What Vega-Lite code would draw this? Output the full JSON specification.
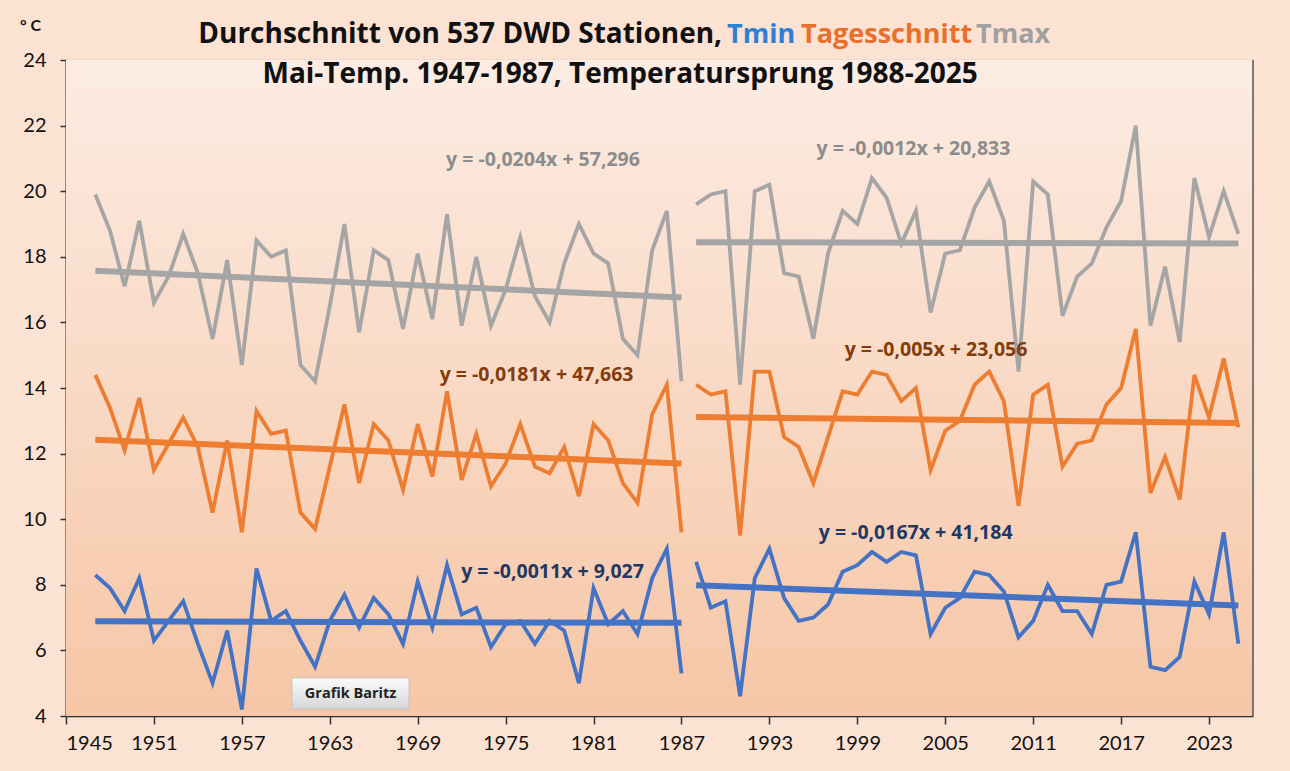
{
  "$schema": "https://vega.github.io/schema/vega-lite/v6.json",
  "width": 1187,
  "height": 656,
  "autosize": {"type": "none"},
  "padding": {"left": 66, "top": 60, "right": 37, "bottom": 55},
  "background": "#fbe2d3",
  "config": {"font": "Lato", "view": {"stroke": null}},
  "datasets": {
    "mai": [
      {"Jahr":1947,"Tmin":8.3,"Tagesschnitt":14.4,"Tmax":19.9},
      {"Jahr":1948,"Tmin":7.9,"Tagesschnitt":13.4,"Tmax":18.8},
      {"Jahr":1949,"Tmin":7.2,"Tagesschnitt":12.1,"Tmax":17.1},
      {"Jahr":1950,"Tmin":8.2,"Tagesschnitt":13.7,"Tmax":19.1},
      {"Jahr":1951,"Tmin":6.3,"Tagesschnitt":11.5,"Tmax":16.6},
      {"Jahr":1952,"Tmin":6.9,"Tagesschnitt":12.3,"Tmax":17.4},
      {"Jahr":1953,"Tmin":7.5,"Tagesschnitt":13.1,"Tmax":18.7},
      {"Jahr":1954,"Tmin":6.2,"Tagesschnitt":12.2,"Tmax":17.5},
      {"Jahr":1955,"Tmin":5.0,"Tagesschnitt":10.2,"Tmax":15.5},
      {"Jahr":1956,"Tmin":6.6,"Tagesschnitt":12.4,"Tmax":17.9},
      {"Jahr":1957,"Tmin":4.2,"Tagesschnitt":9.6,"Tmax":14.7},
      {"Jahr":1958,"Tmin":8.5,"Tagesschnitt":13.3,"Tmax":18.5},
      {"Jahr":1959,"Tmin":6.9,"Tagesschnitt":12.6,"Tmax":18.0},
      {"Jahr":1960,"Tmin":7.2,"Tagesschnitt":12.7,"Tmax":18.2},
      {"Jahr":1961,"Tmin":6.3,"Tagesschnitt":10.2,"Tmax":14.7},
      {"Jahr":1962,"Tmin":5.5,"Tagesschnitt":9.7,"Tmax":14.2},
      {"Jahr":1963,"Tmin":6.9,"Tagesschnitt":11.6,"Tmax":16.5},
      {"Jahr":1964,"Tmin":7.7,"Tagesschnitt":13.5,"Tmax":19.0},
      {"Jahr":1965,"Tmin":6.7,"Tagesschnitt":11.1,"Tmax":15.7},
      {"Jahr":1966,"Tmin":7.6,"Tagesschnitt":12.9,"Tmax":18.2},
      {"Jahr":1967,"Tmin":7.1,"Tagesschnitt":12.4,"Tmax":17.9},
      {"Jahr":1968,"Tmin":6.2,"Tagesschnitt":10.9,"Tmax":15.8},
      {"Jahr":1969,"Tmin":8.1,"Tagesschnitt":12.9,"Tmax":18.1},
      {"Jahr":1970,"Tmin":6.7,"Tagesschnitt":11.3,"Tmax":16.1},
      {"Jahr":1971,"Tmin":8.6,"Tagesschnitt":13.9,"Tmax":19.3},
      {"Jahr":1972,"Tmin":7.1,"Tagesschnitt":11.2,"Tmax":15.9},
      {"Jahr":1973,"Tmin":7.3,"Tagesschnitt":12.6,"Tmax":18.0},
      {"Jahr":1974,"Tmin":6.1,"Tagesschnitt":11.0,"Tmax":15.9},
      {"Jahr":1975,"Tmin":6.8,"Tagesschnitt":11.7,"Tmax":17.0},
      {"Jahr":1976,"Tmin":6.9,"Tagesschnitt":12.9,"Tmax":18.6},
      {"Jahr":1977,"Tmin":6.2,"Tagesschnitt":11.6,"Tmax":16.8},
      {"Jahr":1978,"Tmin":6.9,"Tagesschnitt":11.4,"Tmax":16.0},
      {"Jahr":1979,"Tmin":6.6,"Tagesschnitt":12.2,"Tmax":17.8},
      {"Jahr":1980,"Tmin":5.0,"Tagesschnitt":10.7,"Tmax":19.0},
      {"Jahr":1981,"Tmin":7.9,"Tagesschnitt":12.9,"Tmax":18.1},
      {"Jahr":1982,"Tmin":6.8,"Tagesschnitt":12.4,"Tmax":17.8},
      {"Jahr":1983,"Tmin":7.2,"Tagesschnitt":11.1,"Tmax":15.5},
      {"Jahr":1984,"Tmin":6.5,"Tagesschnitt":10.5,"Tmax":15.0},
      {"Jahr":1985,"Tmin":8.2,"Tagesschnitt":13.2,"Tmax":18.2},
      {"Jahr":1986,"Tmin":9.1,"Tagesschnitt":14.1,"Tmax":19.4},
      {"Jahr":1987,"Tmin":5.3,"Tagesschnitt":9.6,"Tmax":14.2},
      {"Jahr":1988,"Tmin":8.7,"Tagesschnitt":14.1,"Tmax":19.6},
      {"Jahr":1989,"Tmin":7.3,"Tagesschnitt":13.8,"Tmax":19.9},
      {"Jahr":1990,"Tmin":7.5,"Tagesschnitt":13.9,"Tmax":20.0},
      {"Jahr":1991,"Tmin":4.6,"Tagesschnitt":9.5,"Tmax":14.1},
      {"Jahr":1992,"Tmin":8.2,"Tagesschnitt":14.5,"Tmax":20.0},
      {"Jahr":1993,"Tmin":9.1,"Tagesschnitt":14.5,"Tmax":20.2},
      {"Jahr":1994,"Tmin":7.6,"Tagesschnitt":12.5,"Tmax":17.5},
      {"Jahr":1995,"Tmin":6.9,"Tagesschnitt":12.2,"Tmax":17.4},
      {"Jahr":1996,"Tmin":7.0,"Tagesschnitt":11.1,"Tmax":15.5},
      {"Jahr":1997,"Tmin":7.4,"Tagesschnitt":12.5,"Tmax":18.1},
      {"Jahr":1998,"Tmin":8.4,"Tagesschnitt":13.9,"Tmax":19.4},
      {"Jahr":1999,"Tmin":8.6,"Tagesschnitt":13.8,"Tmax":19.0},
      {"Jahr":2000,"Tmin":9.0,"Tagesschnitt":14.5,"Tmax":20.4},
      {"Jahr":2001,"Tmin":8.7,"Tagesschnitt":14.4,"Tmax":19.8},
      {"Jahr":2002,"Tmin":9.0,"Tagesschnitt":13.6,"Tmax":18.4},
      {"Jahr":2003,"Tmin":8.9,"Tagesschnitt":14.0,"Tmax":19.4},
      {"Jahr":2004,"Tmin":6.5,"Tagesschnitt":11.5,"Tmax":16.3},
      {"Jahr":2005,"Tmin":7.3,"Tagesschnitt":12.7,"Tmax":18.1},
      {"Jahr":2006,"Tmin":7.6,"Tagesschnitt":13.0,"Tmax":18.2},
      {"Jahr":2007,"Tmin":8.4,"Tagesschnitt":14.1,"Tmax":19.5},
      {"Jahr":2008,"Tmin":8.3,"Tagesschnitt":14.5,"Tmax":20.3},
      {"Jahr":2009,"Tmin":7.8,"Tagesschnitt":13.6,"Tmax":19.1},
      {"Jahr":2010,"Tmin":6.4,"Tagesschnitt":10.4,"Tmax":14.5},
      {"Jahr":2011,"Tmin":6.9,"Tagesschnitt":13.8,"Tmax":20.3},
      {"Jahr":2012,"Tmin":8.0,"Tagesschnitt":14.1,"Tmax":19.9},
      {"Jahr":2013,"Tmin":7.2,"Tagesschnitt":11.6,"Tmax":16.2},
      {"Jahr":2014,"Tmin":7.2,"Tagesschnitt":12.3,"Tmax":17.4},
      {"Jahr":2015,"Tmin":6.5,"Tagesschnitt":12.4,"Tmax":17.8},
      {"Jahr":2016,"Tmin":8.0,"Tagesschnitt":13.5,"Tmax":18.9},
      {"Jahr":2017,"Tmin":8.1,"Tagesschnitt":14.0,"Tmax":19.7},
      {"Jahr":2018,"Tmin":9.6,"Tagesschnitt":15.8,"Tmax":22.0},
      {"Jahr":2019,"Tmin":5.5,"Tagesschnitt":10.8,"Tmax":15.9},
      {"Jahr":2020,"Tmin":5.4,"Tagesschnitt":11.9,"Tmax":17.7},
      {"Jahr":2021,"Tmin":5.8,"Tagesschnitt":10.6,"Tmax":15.4},
      {"Jahr":2022,"Tmin":8.1,"Tagesschnitt":14.4,"Tmax":20.4},
      {"Jahr":2023,"Tmin":7.1,"Tagesschnitt":13.1,"Tmax":18.6},
      {"Jahr":2024,"Tmin":9.6,"Tagesschnitt":14.9,"Tmax":20.0},
      {"Jahr":2025,"Tmin":6.2,"Tagesschnitt":12.8,"Tmax":18.7}
    ],
    "trend": [
      {"Reihe":"Tmax","Abschnitt":"1947-1987","Jahr":1947,"Wert":17.577},
      {"Reihe":"Tmax","Abschnitt":"1947-1987","Jahr":1987,"Wert":16.761},
      {"Reihe":"Tmax","Abschnitt":"1988-2025","Jahr":1988,"Wert":18.447},
      {"Reihe":"Tmax","Abschnitt":"1988-2025","Jahr":2025,"Wert":18.403},
      {"Reihe":"Tagesschnitt","Abschnitt":"1947-1987","Jahr":1947,"Wert":12.422},
      {"Reihe":"Tagesschnitt","Abschnitt":"1947-1987","Jahr":1987,"Wert":11.698},
      {"Reihe":"Tagesschnitt","Abschnitt":"1988-2025","Jahr":1988,"Wert":13.116},
      {"Reihe":"Tagesschnitt","Abschnitt":"1988-2025","Jahr":2025,"Wert":12.931},
      {"Reihe":"Tmin","Abschnitt":"1947-1987","Jahr":1947,"Wert":6.885},
      {"Reihe":"Tmin","Abschnitt":"1947-1987","Jahr":1987,"Wert":6.841},
      {"Reihe":"Tmin","Abschnitt":"1988-2025","Jahr":1988,"Wert":7.984},
      {"Reihe":"Tmin","Abschnitt":"1988-2025","Jahr":2025,"Wert":7.367}
    ]
  },
  "layer": [
    {
      "data": {"values": [{}]},
      "mark": {"type": "rect", "color": {"gradient": "linear", "x1": 0, "y1": 0, "x2": 0, "y2": 1, "stops": [{"offset": 0, "color": "#fcece3"}, {"offset": 1, "color": "#f6c6a6"}]}},
      "encoding": {
        "x": {"datum": 1945, "type": "quantitative",
          "scale": {"domain": [1945, 2026], "nice": false, "zero": false},
          "axis": {"title": null, "values": [1945,1951,1957,1963,1969,1975,1981,1987,1993,1999,2005,2011,2017,2023], "format": "d",
            "labelFontSize": 20, "labelColor": "#111", "labelPadding": 9, "tickSize": 8, "tickColor": "#333", "tickWidth": 1.5,
            "domainColor": "#333", "domainWidth": 1.5, "grid": true, "gridColor": "#e4dcd6", "gridWidth": 1.2}},
        "x2": {"datum": 2026},
        "y": {"datum": 4, "type": "quantitative",
          "scale": {"domain": [4, 24], "nice": false, "zero": false},
          "axis": {"title": "° C", "titleAngle": 0, "titleX": -36, "titleY": -35, "titleAlign": "center", "titleBaseline": "middle", "titleFontSize": 16, "titleFontWeight": "bold", "titleColor": "#111",
            "values": [4,6,8,10,12,14,16,18,20,22,24], "labelFontSize": 20, "labelColor": "#111", "labelPadding": 14, "tickSize": 6, "tickColor": "#333", "tickWidth": 1.5,
            "domainColor": "#333", "domainWidth": 2, "grid": true, "gridColor": "#cbc3bc", "gridWidth": 1.5}},
        "y2": {"datum": 24}
      }
    },
    {
      "data": {"values": [{}]},
      "mark": {"type": "rule", "color": "#555", "strokeWidth": 1.5},
      "encoding": {"x": {"datum": 2026, "type": "quantitative"}, "y": {"datum": 4, "type": "quantitative"}, "y2": {"datum": 24}}
    },
    {
      "data": {"values": [{}]},
      "mark": {"type": "rect", "color": {"gradient": "linear", "x1": 0, "y1": 0, "x2": 0, "y2": 1, "stops": [{"offset": 0, "color": "#fbfbfb"}, {"offset": 1, "color": "#d6d6d6"}]}, "stroke": "#c4c4c4", "strokeWidth": 1},
      "encoding": {"x": {"datum": 1960.42, "type": "quantitative"}, "x2": {"datum": 1968.41}, "y": {"datum": 4.21, "type": "quantitative"}, "y2": {"datum": 5.16}}
    },
    {
      "data": {"values": [{}]},
      "mark": {"type": "text", "text": "Grafik Baritz", "font": "Open Sans", "fontSize": 14.5, "fontWeight": "bold", "color": "#222", "align": "center", "baseline": "middle"},
      "encoding": {"x": {"datum": 1964.42, "type": "quantitative"}, "y": {"datum": 4.68, "type": "quantitative"}}
    },
    {
      "data": {"name": "mai"},
      "transform": [{"filter": {"field": "Jahr", "lte": 1987}}, {"fold": ["Tmin", "Tagesschnitt", "Tmax"], "as": ["Reihe", "Wert"]}],
      "mark": {"type": "line", "strokeWidth": 3.8},
      "encoding": {
        "x": {"field": "Jahr", "type": "quantitative"},
        "y": {"field": "Wert", "type": "quantitative"},
        "color": {"field": "Reihe", "type": "nominal", "legend": null, "scale": {"domain": ["Tmin", "Tagesschnitt", "Tmax"], "range": ["#4472c4", "#ed7d31", "#a5a5a5"]}}
      }
    },
    {
      "data": {"name": "mai"},
      "transform": [{"filter": {"field": "Jahr", "gte": 1988}}, {"fold": ["Tmin", "Tagesschnitt", "Tmax"], "as": ["Reihe", "Wert"]}],
      "mark": {"type": "line", "strokeWidth": 3.8},
      "encoding": {
        "x": {"field": "Jahr", "type": "quantitative"},
        "y": {"field": "Wert", "type": "quantitative"},
        "color": {"field": "Reihe", "type": "nominal", "legend": null}
      }
    },
    {
      "data": {"name": "trend"},
      "mark": {"type": "line", "strokeWidth": 6},
      "encoding": {
        "x": {"field": "Jahr", "type": "quantitative"},
        "y": {"field": "Wert", "type": "quantitative"},
        "detail": {"field": "Abschnitt"},
        "color": {"field": "Reihe", "type": "nominal", "legend": null}
      }
    },
    {
      "data": {"values": [{}]},
      "mark": {"type": "text", "text": "Durchschnitt von 537 DWD Stationen,", "font": "Open Sans", "fontSize": 28, "fontWeight": "bold", "color": "#111", "align": "right", "baseline": "middle"},
      "encoding": {"x": {"datum": 1989.77, "type": "quantitative"}, "y": {"datum": 24.76, "type": "quantitative"}}
    },
    {
      "data": {"values": [{}]},
      "mark": {"type": "text", "text": "Tmin", "font": "Open Sans", "fontSize": 27, "fontWeight": "bold", "color": "#2e7fd6", "align": "left", "baseline": "middle"},
      "encoding": {"x": {"datum": 1990.11, "type": "quantitative"}, "y": {"datum": 24.76, "type": "quantitative"}}
    },
    {
      "data": {"values": [{}]},
      "mark": {"type": "text", "text": "Tagesschnitt", "font": "Open Sans", "fontSize": 27, "fontWeight": "bold", "color": "#e8702a", "align": "left", "baseline": "middle"},
      "encoding": {"x": {"datum": 1995.16, "type": "quantitative"}, "y": {"datum": 24.76, "type": "quantitative"}}
    },
    {
      "data": {"values": [{}]},
      "mark": {"type": "text", "text": "Tmax", "font": "Open Sans", "fontSize": 27, "fontWeight": "bold", "color": "#a0a0a0", "align": "left", "baseline": "middle"},
      "encoding": {"x": {"datum": 2007.1, "type": "quantitative"}, "y": {"datum": 24.76, "type": "quantitative"}}
    },
    {
      "data": {"values": [{}]},
      "mark": {"type": "text", "text": "Mai-Temp. 1947-1987, Temperatursprung 1988-2025", "font": "Open Sans", "fontSize": 28, "fontWeight": "bold", "color": "#111", "align": "center", "baseline": "middle"},
      "encoding": {"x": {"datum": 1982.81, "type": "quantitative"}, "y": {"datum": 23.54, "type": "quantitative"}}
    },
    {
      "data": {"values": [{}]},
      "mark": {"type": "text", "text": "y = -0,0204x + 57,296", "font": "Open Sans", "fontSize": 19.5, "fontWeight": "bold", "color": "#8c8c8c", "align": "center", "baseline": "middle"},
      "encoding": {"x": {"datum": 1977.55, "type": "quantitative"}, "y": {"datum": 20.95, "type": "quantitative"}}
    },
    {
      "data": {"values": [{}]},
      "mark": {"type": "text", "text": "y = -0,0012x + 20,833", "font": "Open Sans", "fontSize": 19.5, "fontWeight": "bold", "color": "#8c8c8c", "align": "center", "baseline": "middle"},
      "encoding": {"x": {"datum": 2002.83, "type": "quantitative"}, "y": {"datum": 21.28, "type": "quantitative"}}
    },
    {
      "data": {"values": [{}]},
      "mark": {"type": "text", "text": "y = -0,0181x + 47,663", "font": "Open Sans", "fontSize": 19.5, "fontWeight": "bold", "color": "#843c0c", "align": "center", "baseline": "middle"},
      "encoding": {"x": {"datum": 1977.11, "type": "quantitative"}, "y": {"datum": 14.4, "type": "quantitative"}}
    },
    {
      "data": {"values": [{}]},
      "mark": {"type": "text", "text": "y = -0,005x + 23,056", "font": "Open Sans", "fontSize": 19.5, "fontWeight": "bold", "color": "#843c0c", "align": "center", "baseline": "middle"},
      "encoding": {"x": {"datum": 2004.37, "type": "quantitative"}, "y": {"datum": 15.16, "type": "quantitative"}}
    },
    {
      "data": {"values": [{}]},
      "mark": {"type": "text", "text": "y = -0,0011x + 9,027", "font": "Open Sans", "fontSize": 19.5, "fontWeight": "bold", "color": "#1f3864", "align": "center", "baseline": "middle"},
      "encoding": {"x": {"datum": 1978.2, "type": "quantitative"}, "y": {"datum": 8.4, "type": "quantitative"}}
    },
    {
      "data": {"values": [{}]},
      "mark": {"type": "text", "text": "y = -0,0167x + 41,184", "font": "Open Sans", "fontSize": 19.5, "fontWeight": "bold", "color": "#1f3864", "align": "center", "baseline": "middle"},
      "encoding": {"x": {"datum": 2002.98, "type": "quantitative"}, "y": {"datum": 9.57, "type": "quantitative"}}
    }
  ]
}
